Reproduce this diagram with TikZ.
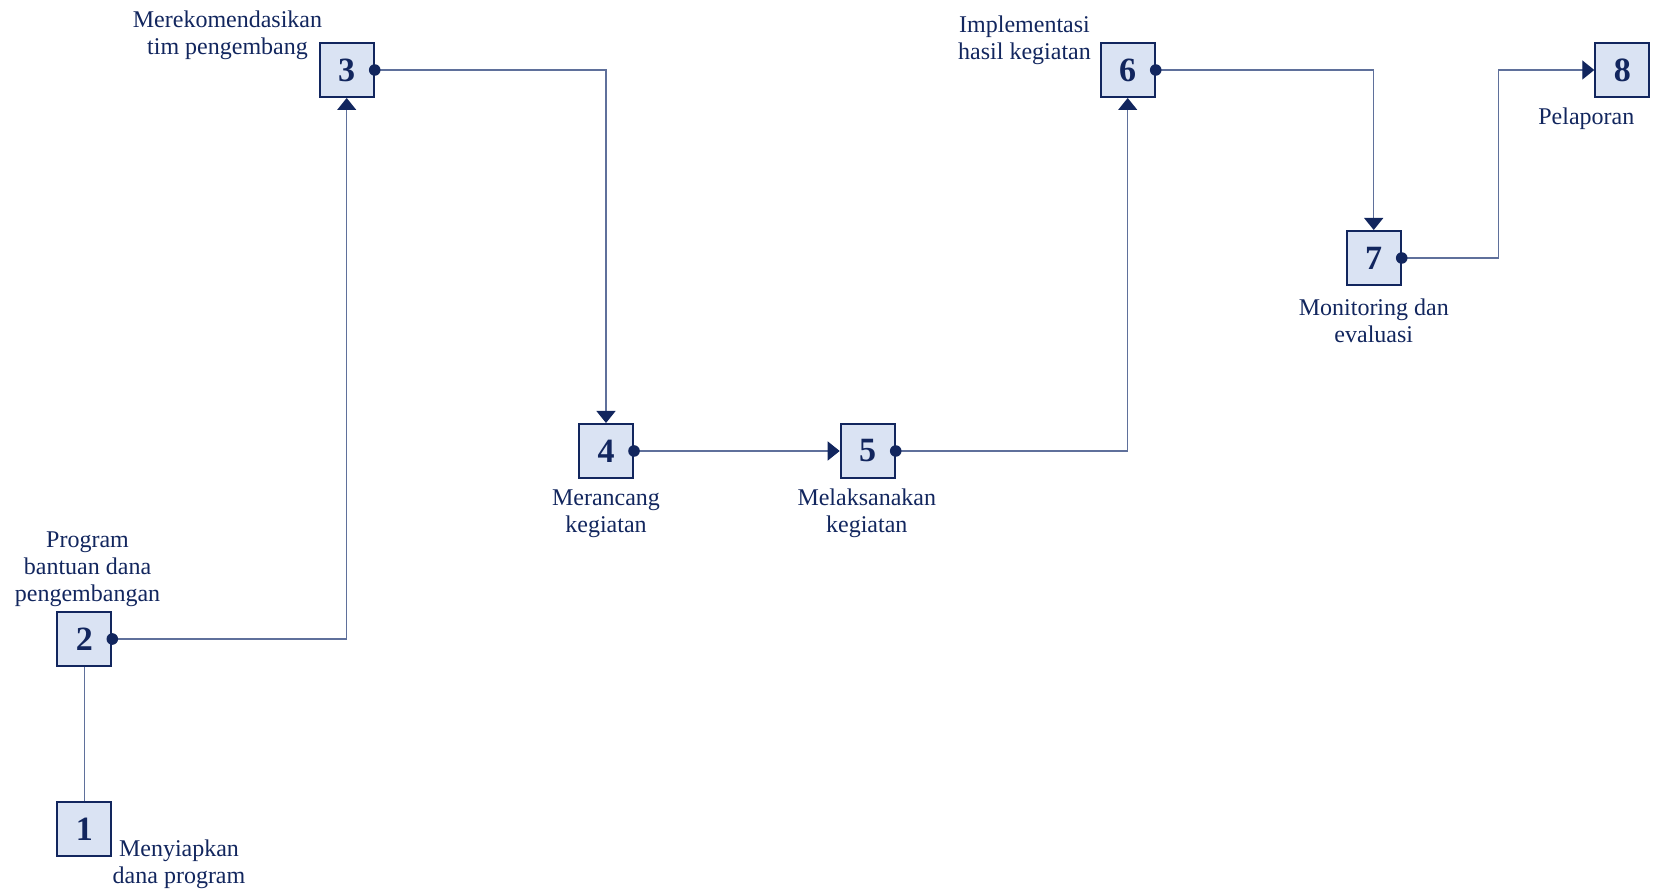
\documentclass[tikz,border=0pt]{standalone}
\usepackage{fontspec}
\setmainfont{Liberation Serif}
\usetikzlibrary{arrows.meta}
\definecolor{navy}{RGB}{18,38,94}
\definecolor{boxfill}{RGB}{218,227,243}
\definecolor{linkc}{RGB}{95,112,155}
\begin{document}
\begin{tikzpicture}[x=0.5pt,y=-0.5pt,
  stepbox/.style={draw=navy, fill=boxfill, line width=1pt, minimum size=27pt,
    inner sep=0pt, text=navy, font=\fontsize{17}{17}\selectfont\bfseries},
  lbl/.style={text=navy, align=center, inner sep=0pt,
    font=\fontsize{12}{13.4}\selectfont},
  link/.style={draw=linkc, line width=0.65pt},
  arr/.style={-{Triangle[length=6pt,width=9.5pt,color=navy]}},
  dot/.style={fill=navy}]
\useasboundingbox (0,0) rectangle (1655,892);

% process steps
\node[stepbox] (n1) at (84.3,829.3) {1};
\node[stepbox] (n2) at (84.3,639) {2};
\node[stepbox] (n3) at (346.7,70) {3};
\node[stepbox] (n4) at (606,451) {4};
\node[stepbox] (n5) at (867.7,451) {5};
\node[stepbox] (n6) at (1127.7,70) {6};
\node[stepbox] (n7) at (1373.7,258) {7};
\node[stepbox] (n8) at (1622.3,70) {8};

% step captions
\node[lbl] (t1) at (179,864) {Menyiapkan\\dana program};
\node[lbl] (t2) at (87.5,569) {Program\\bantuan dana\\pengembangan};
\node[lbl] (t3) at (227.5,35.5) {Merekomendasikan\\tim pengembang};
\node[lbl] (t4) at (606,513.5) {Merancang\\kegiatan};
\node[lbl] (t5) at (866.8,513.5) {Melaksanakan\\kegiatan};
\node[lbl] (t6) at (1024.5,40.5) {Implementasi\\hasil kegiatan};
\node[lbl] (t7) at (1373.8,321) {Monitoring dan\\evaluasi};
\node[lbl, anchor=base] (t8) at (1586.3,124.5) {Pelaporan};

% connectors
\coordinate (k78) at (1498.3,258);
\draw[link] (n1) -- (n2);
\draw[link,arr] (n2.east) -| (n3.south);
\draw[link,arr] (n3.east) -| (n4.north);
\draw[link,arr] (n4.east) -- (n5.west);
\draw[link,arr] (n5.east) -| (n6.south);
\draw[link,arr] (n6.east) -| (n7.north);
\draw[link,arr] (n7.east) -- (k78) |- (n8.west);

% start dots
\foreach \n in {n2,n3,n4,n5,n6,n7}
  \fill[dot] (\n.east) circle (2.9pt);
\end{tikzpicture}
\end{document}
